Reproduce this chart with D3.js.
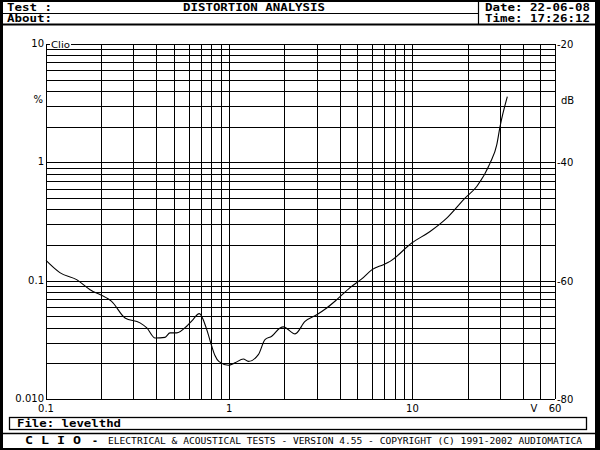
<!DOCTYPE html>
<html><head><meta charset="utf-8">
<script src="https://cdn.jsdelivr.net/npm/d3@7"></script>
<style>body{margin:0;background:#fff}svg{display:block}</style>
</head><body>
<svg id="c" width="600" height="450"></svg>
<script>
// ---- data ----
const voltage = [0.100,0.119,0.147,0.174,0.214,0.228,0.270,0.326,0.355,0.394,0.446,0.475,0.517,0.586,0.627,0.687,0.754,0.803,0.836,0.880,0.989,1.076,1.194,1.272,1.442,1.568,1.706,1.894,1.974,2.287,2.593,3.004,3.406,3.864,4.564,5.308,6.020,6.938,7.546,9.91,12.48,15.39,19.37,22.44,26.53,28.85,30.07,32.96];
const thd = [0.1483,0.117,0.102,0.0839,0.0715,0.0669,0.0484,0.044,0.0399,0.0328,0.0332,0.0362,0.0362,0.0412,0.046,0.0527,0.0386,0.0279,0.0233,0.0207,0.0193,0.0202,0.0218,0.0208,0.0237,0.0318,0.0339,0.0399,0.0407,0.0355,0.0453,0.0516,0.0588,0.0691,0.0873,0.104,0.124,0.1365,0.1455,0.2079,0.2606,0.338,0.499,0.625,0.984,1.405,2.005,3.590];
const xGrid = [0.1,0.2,0.3,0.4,0.5,0.6,0.7,0.8,0.9,1,2,3,4,5,6,7,8,9,10,20,30,40,50,60];
const yGrid = [0.01,0.02,0.03,0.04,0.05,0.06,0.07,0.08,0.09,0.1,0.2,0.3,0.4,0.5,0.6,0.7,0.8,0.9,1,2,3,4,5,6,7,8,9,10];
const xLabels = [{v:0.1,t:"0.1"},{v:1,t:"1"},{v:10,t:"10"},{v:60,t:"60"}];
const yLabels = [{v:10,t:"10"},{v:1,t:"1"},{v:0.1,t:"0.1"},{v:0.01,t:"0.010"}];
const dbLabels = [-20,-40,-60,-80];
const header = {test:"Test :", about:"About:", title:"DISTORTION ANALYSIS", date:"Date: 22-06-08", time:"Time: 17:26:12"};
const fileName = "File:  levelthd";
const footer = "ELECTRICAL & ACOUSTICAL TESTS  -  VERSION 4.55  -  COPYRIGHT (C) 1991-2002 AUDIOMATICA";

// ---- drawing ----
const svg = d3.select("#c");
const L=46,R=555,T=44,B=399;
const x = d3.scaleLog().domain([0.1,60]).range([L,R]);
const y = d3.scaleLog().domain([0.01,10]).range([B,T]);
const yDb = d3.scaleLinear().domain([-80,-20]).range([B,T]);
const mono = "'DejaVu Sans Mono', 'Liberation Mono', monospace";
const sans = "'DejaVu Sans', Verdana, sans-serif";

svg.append("rect").attr("width",600).attr("height",450).attr("fill","#fff");
// borders
svg.append("rect").attr("x",0).attr("y",0).attr("width",3).attr("height",450).attr("fill","#000");
svg.append("rect").attr("x",595).attr("y",0).attr("width",5).attr("height",450).attr("fill","#000");
svg.append("rect").attr("x",0).attr("y",0).attr("width",600).attr("height",2).attr("fill","#000");
svg.append("rect").attr("x",0).attr("y",448).attr("width",600).attr("height",2).attr("fill","#000");
// header lines
svg.append("rect").attr("x",0).attr("y",23.5).attr("width",600).attr("height",2).attr("fill","#000");
svg.append("line").attr("x1",0).attr("x2",478).attr("y1",13.5).attr("y2",13.5).attr("stroke","#000").attr("stroke-width",1.2);
svg.append("line").attr("x1",478.5).attr("x2",478.5).attr("y1",0).attr("y2",25).attr("stroke","#000").attr("stroke-width",1.2);
const ht = svg.append("g").attr("font-family",mono).attr("font-weight","bold").attr("font-size",10).attr("fill","#000");
ht.append("text").attr("x",7).attr("y",11).attr("textLength",45).attr("lengthAdjust","spacingAndGlyphs").text(header.test);
ht.append("text").attr("x",7).attr("y",22).attr("textLength",45).attr("lengthAdjust","spacingAndGlyphs").text(header.about);
ht.append("text").attr("x",183).attr("y",11).attr("textLength",142).attr("lengthAdjust","spacingAndGlyphs").text(header.title);
ht.append("text").attr("x",485).attr("y",11).attr("textLength",105).attr("lengthAdjust","spacingAndGlyphs").text(header.date);
ht.append("text").attr("x",485).attr("y",22).attr("textLength",105).attr("lengthAdjust","spacingAndGlyphs").text(header.time);

// grid
const g = svg.append("g").attr("stroke","#000").attr("stroke-width",1.3).attr("shape-rendering","crispEdges");
g.selectAll("line.v").data(xGrid).join("line").attr("class","v")
  .attr("x1",d=>Math.round(x(d))+0.5).attr("x2",d=>Math.round(x(d))+0.5).attr("y1",T).attr("y2",B);
g.selectAll("line.h").data(yGrid).join("line").attr("class","h")
  .attr("y1",d=>Math.round(y(d))+0.5).attr("y2",d=>Math.round(y(d))+0.5).attr("x1",L).attr("x2",R);

// Clio label
svg.append("rect").attr("x",50).attr("y",39).attr("width",21).attr("height",10).attr("fill","#fff");
svg.append("text").attr("x",51).attr("y",48).attr("font-family",sans).attr("font-size",9).attr("textLength",19).attr("lengthAdjust","spacingAndGlyphs").text("Clio");

// curve
svg.append("path").datum(voltage.map((v,i)=>[v,thd[i]]))
  .attr("fill","none").attr("stroke","#000").attr("stroke-width",1.1)
  .attr("d",d3.line().curve(d3.curveMonotoneX).x(d=>x(d[0])).y(d=>y(d[1])));

// labels
const lt = svg.append("g").attr("font-family",sans).attr("font-size",10).attr("fill","#000");
lt.selectAll("text.yl").data(yLabels).join("text").attr("class","yl")
  .attr("x",L-2).attr("y",d=>y(d.v)+3).attr("text-anchor","end").text(d=>d.t);
lt.append("text").attr("x",L-3).attr("y",103).attr("text-anchor","end").text("%");
lt.selectAll("text.dl").data(dbLabels).join("text").attr("class","dl")
  .attr("x",R+2).attr("y",d=>yDb(d)+4).text(d=>"-"+Math.abs(d));
lt.append("text").attr("x",561).attr("y",104).text("dB");
lt.selectAll("text.xl").data(xLabels).join("text").attr("class","xl")
  .attr("x",d=>x(d.v)).attr("y",412).attr("text-anchor","middle").text(d=>d.t);
lt.append("text").attr("x",534).attr("y",412).attr("text-anchor","middle").text("V");

// file box
svg.append("rect").attr("x",9.5).attr("y",417.5).attr("width",577).attr("height",12).attr("fill","none").attr("stroke","#000").attr("stroke-width",1.3);
svg.append("text").attr("x",17).attr("y",427).attr("font-family",mono).attr("font-weight","bold").attr("font-size",10.5)
  .attr("textLength",104).attr("lengthAdjust","spacingAndGlyphs").text(fileName);
// footer
svg.append("line").attr("x1",0).attr("x2",600).attr("y1",433.5).attr("y2",433.5).attr("stroke","#000").attr("stroke-width",1.3);
svg.append("text").attr("x",25).attr("y",444).attr("font-family",mono).attr("font-weight","bold").attr("font-size",10)
  .attr("textLength",56).attr("lengthAdjust","spacingAndGlyphs").text("C L I O");
svg.append("text").attr("x",92).attr("y",444).attr("font-family",mono).attr("font-weight","bold").attr("font-size",10).text("-");
svg.append("text").attr("x",108).attr("y",444).attr("font-family",mono).attr("font-size",9.5)
  .attr("textLength",474).attr("lengthAdjust","spacingAndGlyphs").text(footer);
</script>
</body></html>
